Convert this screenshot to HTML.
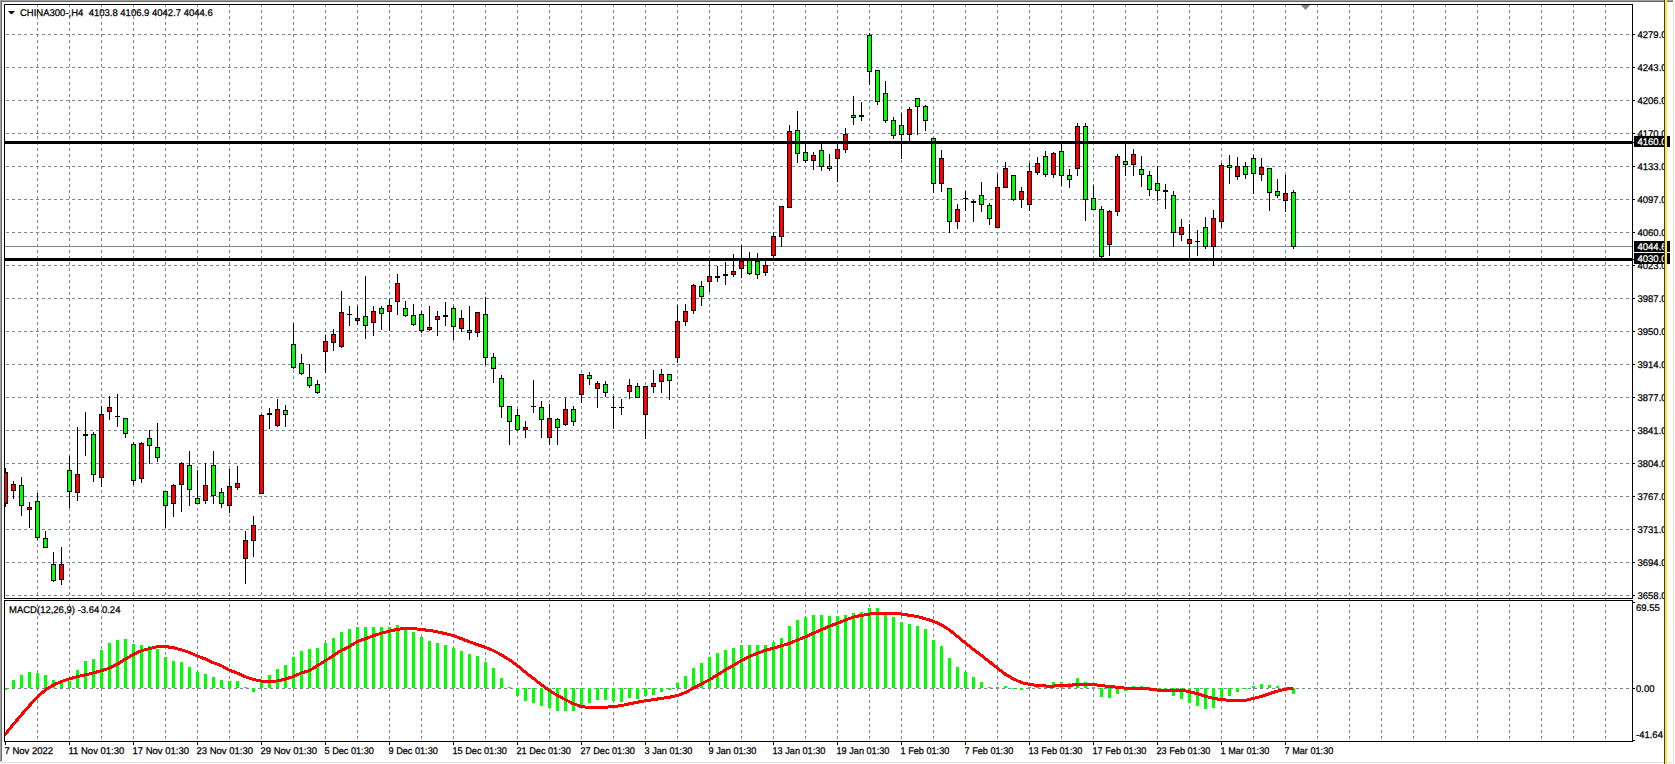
<!DOCTYPE html>
<html><head><meta charset="utf-8"><title>CHINA300 H4</title>
<style>html,body{margin:0;padding:0;background:#fff;overflow:hidden}svg{display:block}text{font-family:"Liberation Sans",sans-serif;stroke:#000;stroke-width:.25px}.w text{stroke:#fff}</style>
</head><body>
<svg width="1675" height="764" viewBox="0 0 1675 764"><rect x="0" y="0" width="1675" height="764" fill="#ffffff"/>
<rect x="0" y="0" width="1673" height="1" fill="#a0a0a0"/>
<rect x="0" y="0" width="1" height="762" fill="#a0a0a0"/>
<rect x="1" y="1" width="1672" height="1" fill="#696969"/>
<rect x="1" y="1" width="1" height="760" fill="#696969"/>
<rect x="1673" y="2" width="1" height="761" fill="#e3e3e3"/>
<rect x="1" y="762" width="1673" height="1" fill="#e3e3e3"/>
<path d="M5 34.5H1632M5 67.5H1632M5 100.5H1632M5 133.5H1632M5 166.5H1632M5 199.5H1632M5 232.5H1632M5 265.5H1632M5 298.5H1632M5 331.5H1632M5 364.5H1632M5 397.5H1632M5 430.5H1632M5 463.5H1632M5 496.5H1632M5 529.5H1632M5 562.5H1632M5 595.5H1632M5 688.5H1632" stroke="#778899" stroke-width="1" stroke-dasharray="3 3" stroke-dashoffset="-1" fill="none" shape-rendering="crispEdges"/>
<path d="M37.5 5V741M69.5 5V741M101.5 5V741M133.5 5V741M165.5 5V741M197.5 5V741M229.5 5V741M261.5 5V741M293.5 5V741M325.5 5V741M357.5 5V741M389.5 5V741M421.5 5V741M453.5 5V741M485.5 5V741M517.5 5V741M549.5 5V741M581.5 5V741M613.5 5V741M645.5 5V741M677.5 5V741M709.5 5V741M741.5 5V741M773.5 5V741M805.5 5V741M837.5 5V741M869.5 5V741M901.5 5V741M933.5 5V741M965.5 5V741M997.5 5V741M1029.5 5V741M1061.5 5V741M1093.5 5V741M1125.5 5V741M1157.5 5V741M1189.5 5V741M1221.5 5V741M1253.5 5V741M1285.5 5V741M1317.5 5V741M1349.5 5V741M1381.5 5V741M1413.5 5V741M1445.5 5V741M1477.5 5V741M1509.5 5V741M1541.5 5V741M1573.5 5V741M1605.5 5V741" stroke="#778899" stroke-width="1" stroke-dasharray="3 3" stroke-dashoffset="-5" fill="none" shape-rendering="crispEdges"/>
<rect x="5" y="246" width="1627" height="1" fill="#778899"/>
<clipPath id="cm"><rect x="5" y="5" width="1627" height="593"/></clipPath>
<g clip-path="url(#cm)" shape-rendering="crispEdges">
<rect x="5" y="468" width="1" height="39" fill="#000"/>
<rect x="3" y="472" width="5" height="32" fill="#000"/>
<rect x="4" y="473" width="3" height="30" fill="#ff0000"/>
<rect x="13" y="481" width="1" height="18" fill="#000"/>
<rect x="11" y="484" width="5" height="7" fill="#000"/>
<rect x="12" y="485" width="3" height="5" fill="#ff0000"/>
<rect x="21" y="477" width="1" height="39" fill="#000"/>
<rect x="19" y="485" width="5" height="21" fill="#000"/>
<rect x="20" y="486" width="3" height="19" fill="#00ff00"/>
<rect x="29" y="502" width="1" height="26" fill="#000"/>
<rect x="27" y="507" width="5" height="3" fill="#000"/>
<rect x="28" y="508" width="3" height="1" fill="#ff0000"/>
<rect x="37" y="493" width="1" height="47" fill="#000"/>
<rect x="35" y="501" width="5" height="37" fill="#000"/>
<rect x="36" y="502" width="3" height="35" fill="#00ff00"/>
<rect x="45" y="531" width="1" height="17" fill="#000"/>
<rect x="43" y="538" width="5" height="10" fill="#000"/>
<rect x="44" y="539" width="3" height="8" fill="#00ff00"/>
<rect x="53" y="552" width="1" height="30" fill="#000"/>
<rect x="51" y="564" width="5" height="17" fill="#000"/>
<rect x="52" y="565" width="3" height="15" fill="#00ff00"/>
<rect x="61" y="547" width="1" height="38" fill="#000"/>
<rect x="59" y="564" width="5" height="16" fill="#000"/>
<rect x="60" y="565" width="3" height="14" fill="#ff0000"/>
<rect x="69" y="456" width="1" height="52" fill="#000"/>
<rect x="67" y="470" width="5" height="22" fill="#000"/>
<rect x="68" y="471" width="3" height="20" fill="#00ff00"/>
<rect x="77" y="427" width="1" height="74" fill="#000"/>
<rect x="75" y="474" width="5" height="19" fill="#000"/>
<rect x="76" y="475" width="3" height="17" fill="#ff0000"/>
<rect x="85" y="412" width="1" height="44" fill="#000"/>
<rect x="83" y="434" width="5" height="2" fill="#000"/>
<rect x="93" y="432" width="1" height="50" fill="#000"/>
<rect x="91" y="434" width="5" height="41" fill="#000"/>
<rect x="92" y="435" width="3" height="39" fill="#00ff00"/>
<rect x="101" y="406" width="1" height="81" fill="#000"/>
<rect x="99" y="414" width="5" height="64" fill="#000"/>
<rect x="100" y="415" width="3" height="62" fill="#ff0000"/>
<rect x="109" y="396" width="1" height="24" fill="#000"/>
<rect x="107" y="407" width="5" height="5" fill="#000"/>
<rect x="108" y="408" width="3" height="3" fill="#ff0000"/>
<rect x="117" y="394" width="1" height="33" fill="#000"/>
<rect x="115" y="416" width="5" height="1" fill="#000"/>
<rect x="125" y="418" width="1" height="20" fill="#000"/>
<rect x="123" y="418" width="5" height="16" fill="#000"/>
<rect x="124" y="419" width="3" height="14" fill="#00ff00"/>
<rect x="133" y="442" width="1" height="43" fill="#000"/>
<rect x="131" y="444" width="5" height="37" fill="#000"/>
<rect x="132" y="445" width="3" height="35" fill="#00ff00"/>
<rect x="141" y="442" width="1" height="41" fill="#000"/>
<rect x="139" y="443" width="5" height="36" fill="#000"/>
<rect x="140" y="444" width="3" height="34" fill="#ff0000"/>
<rect x="149" y="430" width="1" height="34" fill="#000"/>
<rect x="147" y="438" width="5" height="8" fill="#000"/>
<rect x="148" y="439" width="3" height="6" fill="#00ff00"/>
<rect x="157" y="423" width="1" height="39" fill="#000"/>
<rect x="155" y="447" width="5" height="11" fill="#000"/>
<rect x="156" y="448" width="3" height="9" fill="#00ff00"/>
<rect x="165" y="491" width="1" height="37" fill="#000"/>
<rect x="163" y="491" width="5" height="15" fill="#000"/>
<rect x="164" y="492" width="3" height="13" fill="#00ff00"/>
<rect x="173" y="484" width="1" height="33" fill="#000"/>
<rect x="171" y="485" width="5" height="19" fill="#000"/>
<rect x="172" y="486" width="3" height="17" fill="#ff0000"/>
<rect x="181" y="462" width="1" height="50" fill="#000"/>
<rect x="179" y="463" width="5" height="22" fill="#000"/>
<rect x="180" y="464" width="3" height="20" fill="#ff0000"/>
<rect x="189" y="451" width="1" height="55" fill="#000"/>
<rect x="187" y="465" width="5" height="25" fill="#000"/>
<rect x="188" y="466" width="3" height="23" fill="#00ff00"/>
<rect x="197" y="470" width="1" height="34" fill="#000"/>
<rect x="195" y="498" width="5" height="6" fill="#000"/>
<rect x="196" y="499" width="3" height="4" fill="#00ff00"/>
<rect x="205" y="463" width="1" height="41" fill="#000"/>
<rect x="203" y="485" width="5" height="16" fill="#000"/>
<rect x="204" y="486" width="3" height="14" fill="#ff0000"/>
<rect x="213" y="451" width="1" height="53" fill="#000"/>
<rect x="211" y="465" width="5" height="31" fill="#000"/>
<rect x="212" y="466" width="3" height="29" fill="#00ff00"/>
<rect x="221" y="488" width="1" height="20" fill="#000"/>
<rect x="219" y="492" width="5" height="12" fill="#000"/>
<rect x="220" y="493" width="3" height="10" fill="#00ff00"/>
<rect x="229" y="469" width="1" height="44" fill="#000"/>
<rect x="227" y="486" width="5" height="20" fill="#000"/>
<rect x="228" y="487" width="3" height="18" fill="#ff0000"/>
<rect x="237" y="466" width="1" height="24" fill="#000"/>
<rect x="235" y="483" width="5" height="5" fill="#000"/>
<rect x="236" y="484" width="3" height="3" fill="#ff0000"/>
<rect x="245" y="531" width="1" height="53" fill="#000"/>
<rect x="243" y="540" width="5" height="19" fill="#000"/>
<rect x="244" y="541" width="3" height="17" fill="#ff0000"/>
<rect x="253" y="516" width="1" height="41" fill="#000"/>
<rect x="251" y="525" width="5" height="16" fill="#000"/>
<rect x="252" y="526" width="3" height="14" fill="#ff0000"/>
<rect x="261" y="414" width="1" height="80" fill="#000"/>
<rect x="259" y="415" width="5" height="79" fill="#000"/>
<rect x="260" y="416" width="3" height="77" fill="#ff0000"/>
<rect x="269" y="408" width="1" height="21" fill="#000"/>
<rect x="267" y="413" width="5" height="2" fill="#000"/>
<rect x="277" y="399" width="1" height="28" fill="#000"/>
<rect x="275" y="409" width="5" height="17" fill="#000"/>
<rect x="276" y="410" width="3" height="15" fill="#ff0000"/>
<rect x="285" y="405" width="1" height="22" fill="#000"/>
<rect x="283" y="410" width="5" height="5" fill="#000"/>
<rect x="284" y="411" width="3" height="3" fill="#00ff00"/>
<rect x="293" y="323" width="1" height="46" fill="#000"/>
<rect x="291" y="344" width="5" height="24" fill="#000"/>
<rect x="292" y="345" width="3" height="22" fill="#00ff00"/>
<rect x="301" y="354" width="1" height="21" fill="#000"/>
<rect x="299" y="363" width="5" height="11" fill="#000"/>
<rect x="300" y="364" width="3" height="9" fill="#00ff00"/>
<rect x="309" y="364" width="1" height="24" fill="#000"/>
<rect x="307" y="377" width="5" height="9" fill="#000"/>
<rect x="308" y="378" width="3" height="7" fill="#00ff00"/>
<rect x="317" y="380" width="1" height="14" fill="#000"/>
<rect x="315" y="384" width="5" height="9" fill="#000"/>
<rect x="316" y="385" width="3" height="7" fill="#00ff00"/>
<rect x="325" y="335" width="1" height="38" fill="#000"/>
<rect x="323" y="341" width="5" height="11" fill="#000"/>
<rect x="324" y="342" width="3" height="9" fill="#ff0000"/>
<rect x="333" y="329" width="1" height="22" fill="#000"/>
<rect x="331" y="334" width="5" height="9" fill="#000"/>
<rect x="332" y="335" width="3" height="7" fill="#ff0000"/>
<rect x="341" y="291" width="1" height="57" fill="#000"/>
<rect x="339" y="312" width="5" height="35" fill="#000"/>
<rect x="340" y="313" width="3" height="33" fill="#ff0000"/>
<rect x="349" y="306" width="1" height="20" fill="#000"/>
<rect x="347" y="314" width="5" height="1" fill="#000"/>
<rect x="357" y="306" width="1" height="19" fill="#000"/>
<rect x="355" y="318" width="5" height="3" fill="#000"/>
<rect x="356" y="319" width="3" height="1" fill="#ff0000"/>
<rect x="365" y="276" width="1" height="63" fill="#000"/>
<rect x="363" y="316" width="5" height="10" fill="#000"/>
<rect x="364" y="317" width="3" height="8" fill="#00ff00"/>
<rect x="373" y="306" width="1" height="30" fill="#000"/>
<rect x="371" y="311" width="5" height="12" fill="#000"/>
<rect x="372" y="312" width="3" height="10" fill="#ff0000"/>
<rect x="381" y="306" width="1" height="24" fill="#000"/>
<rect x="379" y="308" width="5" height="6" fill="#000"/>
<rect x="380" y="309" width="3" height="4" fill="#00ff00"/>
<rect x="389" y="299" width="1" height="32" fill="#000"/>
<rect x="387" y="305" width="5" height="7" fill="#000"/>
<rect x="388" y="306" width="3" height="5" fill="#ff0000"/>
<rect x="397" y="274" width="1" height="41" fill="#000"/>
<rect x="395" y="283" width="5" height="19" fill="#000"/>
<rect x="396" y="284" width="3" height="17" fill="#ff0000"/>
<rect x="405" y="301" width="1" height="16" fill="#000"/>
<rect x="403" y="308" width="5" height="8" fill="#000"/>
<rect x="404" y="309" width="3" height="6" fill="#00ff00"/>
<rect x="413" y="304" width="1" height="22" fill="#000"/>
<rect x="411" y="315" width="5" height="10" fill="#000"/>
<rect x="412" y="316" width="3" height="8" fill="#00ff00"/>
<rect x="421" y="311" width="1" height="22" fill="#000"/>
<rect x="419" y="314" width="5" height="17" fill="#000"/>
<rect x="420" y="315" width="3" height="15" fill="#00ff00"/>
<rect x="429" y="306" width="1" height="25" fill="#000"/>
<rect x="427" y="327" width="5" height="3" fill="#000"/>
<rect x="428" y="328" width="3" height="1" fill="#ff0000"/>
<rect x="437" y="311" width="1" height="25" fill="#000"/>
<rect x="435" y="316" width="5" height="4" fill="#000"/>
<rect x="436" y="317" width="3" height="2" fill="#ff0000"/>
<rect x="445" y="302" width="1" height="24" fill="#000"/>
<rect x="443" y="315" width="5" height="2" fill="#000"/>
<rect x="453" y="306" width="1" height="34" fill="#000"/>
<rect x="451" y="308" width="5" height="19" fill="#000"/>
<rect x="452" y="309" width="3" height="17" fill="#00ff00"/>
<rect x="461" y="310" width="1" height="22" fill="#000"/>
<rect x="459" y="318" width="5" height="11" fill="#000"/>
<rect x="460" y="319" width="3" height="9" fill="#ff0000"/>
<rect x="469" y="306" width="1" height="34" fill="#000"/>
<rect x="467" y="330" width="5" height="3" fill="#000"/>
<rect x="468" y="331" width="3" height="1" fill="#00ff00"/>
<rect x="477" y="312" width="1" height="25" fill="#000"/>
<rect x="475" y="312" width="5" height="21" fill="#000"/>
<rect x="476" y="313" width="3" height="19" fill="#ff0000"/>
<rect x="485" y="297" width="1" height="68" fill="#000"/>
<rect x="483" y="314" width="5" height="44" fill="#000"/>
<rect x="484" y="315" width="3" height="42" fill="#00ff00"/>
<rect x="493" y="353" width="1" height="30" fill="#000"/>
<rect x="491" y="357" width="5" height="12" fill="#000"/>
<rect x="492" y="358" width="3" height="10" fill="#00ff00"/>
<rect x="501" y="375" width="1" height="43" fill="#000"/>
<rect x="499" y="378" width="5" height="29" fill="#000"/>
<rect x="500" y="379" width="3" height="27" fill="#00ff00"/>
<rect x="509" y="406" width="1" height="39" fill="#000"/>
<rect x="507" y="406" width="5" height="16" fill="#000"/>
<rect x="508" y="407" width="3" height="14" fill="#00ff00"/>
<rect x="517" y="409" width="1" height="22" fill="#000"/>
<rect x="515" y="415" width="5" height="15" fill="#000"/>
<rect x="516" y="416" width="3" height="13" fill="#00ff00"/>
<rect x="525" y="421" width="1" height="17" fill="#000"/>
<rect x="523" y="427" width="5" height="3" fill="#000"/>
<rect x="524" y="428" width="3" height="1" fill="#ff0000"/>
<rect x="533" y="380" width="1" height="33" fill="#000"/>
<rect x="531" y="406" width="5" height="1" fill="#000"/>
<rect x="541" y="401" width="1" height="37" fill="#000"/>
<rect x="539" y="407" width="5" height="13" fill="#000"/>
<rect x="540" y="408" width="3" height="11" fill="#00ff00"/>
<rect x="549" y="404" width="1" height="41" fill="#000"/>
<rect x="547" y="418" width="5" height="20" fill="#000"/>
<rect x="548" y="419" width="3" height="18" fill="#ff0000"/>
<rect x="557" y="418" width="1" height="27" fill="#000"/>
<rect x="555" y="419" width="5" height="9" fill="#000"/>
<rect x="556" y="420" width="3" height="7" fill="#00ff00"/>
<rect x="565" y="398" width="1" height="28" fill="#000"/>
<rect x="563" y="409" width="5" height="16" fill="#000"/>
<rect x="564" y="410" width="3" height="14" fill="#ff0000"/>
<rect x="573" y="406" width="1" height="20" fill="#000"/>
<rect x="571" y="409" width="5" height="13" fill="#000"/>
<rect x="572" y="410" width="3" height="11" fill="#00ff00"/>
<rect x="581" y="374" width="1" height="29" fill="#000"/>
<rect x="579" y="374" width="5" height="21" fill="#000"/>
<rect x="580" y="375" width="3" height="19" fill="#ff0000"/>
<rect x="589" y="372" width="1" height="13" fill="#000"/>
<rect x="587" y="375" width="5" height="4" fill="#000"/>
<rect x="588" y="376" width="3" height="2" fill="#00ff00"/>
<rect x="597" y="381" width="1" height="27" fill="#000"/>
<rect x="595" y="383" width="5" height="6" fill="#000"/>
<rect x="596" y="384" width="3" height="4" fill="#ff0000"/>
<rect x="605" y="381" width="1" height="16" fill="#000"/>
<rect x="603" y="384" width="5" height="9" fill="#000"/>
<rect x="604" y="385" width="3" height="7" fill="#00ff00"/>
<rect x="613" y="396" width="1" height="33" fill="#000"/>
<rect x="611" y="407" width="5" height="1" fill="#000"/>
<rect x="621" y="399" width="1" height="16" fill="#000"/>
<rect x="619" y="407" width="5" height="1" fill="#000"/>
<rect x="629" y="379" width="1" height="20" fill="#000"/>
<rect x="627" y="385" width="5" height="7" fill="#000"/>
<rect x="628" y="386" width="3" height="5" fill="#ff0000"/>
<rect x="637" y="383" width="1" height="15" fill="#000"/>
<rect x="635" y="386" width="5" height="12" fill="#000"/>
<rect x="636" y="387" width="3" height="10" fill="#00ff00"/>
<rect x="645" y="386" width="1" height="53" fill="#000"/>
<rect x="643" y="386" width="5" height="29" fill="#000"/>
<rect x="644" y="387" width="3" height="27" fill="#ff0000"/>
<rect x="653" y="370" width="1" height="23" fill="#000"/>
<rect x="651" y="383" width="5" height="4" fill="#000"/>
<rect x="652" y="384" width="3" height="2" fill="#ff0000"/>
<rect x="661" y="369" width="1" height="24" fill="#000"/>
<rect x="659" y="374" width="5" height="8" fill="#000"/>
<rect x="660" y="375" width="3" height="6" fill="#ff0000"/>
<rect x="669" y="374" width="1" height="26" fill="#000"/>
<rect x="667" y="374" width="5" height="7" fill="#000"/>
<rect x="668" y="375" width="3" height="5" fill="#00ff00"/>
<rect x="677" y="305" width="1" height="58" fill="#000"/>
<rect x="675" y="321" width="5" height="37" fill="#000"/>
<rect x="676" y="322" width="3" height="35" fill="#ff0000"/>
<rect x="685" y="304" width="1" height="22" fill="#000"/>
<rect x="683" y="311" width="5" height="11" fill="#000"/>
<rect x="684" y="312" width="3" height="9" fill="#ff0000"/>
<rect x="693" y="284" width="1" height="30" fill="#000"/>
<rect x="691" y="285" width="5" height="26" fill="#000"/>
<rect x="692" y="286" width="3" height="24" fill="#ff0000"/>
<rect x="701" y="281" width="1" height="25" fill="#000"/>
<rect x="699" y="286" width="5" height="11" fill="#000"/>
<rect x="700" y="287" width="3" height="9" fill="#00ff00"/>
<rect x="709" y="260" width="1" height="32" fill="#000"/>
<rect x="707" y="276" width="5" height="6" fill="#000"/>
<rect x="708" y="277" width="3" height="4" fill="#ff0000"/>
<rect x="717" y="266" width="1" height="16" fill="#000"/>
<rect x="715" y="276" width="5" height="2" fill="#000"/>
<rect x="725" y="262" width="1" height="23" fill="#000"/>
<rect x="723" y="274" width="5" height="2" fill="#000"/>
<rect x="733" y="254" width="1" height="23" fill="#000"/>
<rect x="731" y="271" width="5" height="4" fill="#000"/>
<rect x="732" y="272" width="3" height="2" fill="#ff0000"/>
<rect x="741" y="245" width="1" height="33" fill="#000"/>
<rect x="739" y="261" width="5" height="8" fill="#000"/>
<rect x="740" y="262" width="3" height="6" fill="#ff0000"/>
<rect x="749" y="252" width="1" height="23" fill="#000"/>
<rect x="747" y="260" width="5" height="14" fill="#000"/>
<rect x="748" y="261" width="3" height="12" fill="#00ff00"/>
<rect x="757" y="253" width="1" height="26" fill="#000"/>
<rect x="755" y="261" width="5" height="14" fill="#000"/>
<rect x="756" y="262" width="3" height="12" fill="#00ff00"/>
<rect x="765" y="261" width="1" height="15" fill="#000"/>
<rect x="763" y="265" width="5" height="8" fill="#000"/>
<rect x="764" y="266" width="3" height="6" fill="#ff0000"/>
<rect x="773" y="232" width="1" height="27" fill="#000"/>
<rect x="771" y="236" width="5" height="20" fill="#000"/>
<rect x="772" y="237" width="3" height="18" fill="#ff0000"/>
<rect x="781" y="206" width="1" height="41" fill="#000"/>
<rect x="779" y="206" width="5" height="31" fill="#000"/>
<rect x="780" y="207" width="3" height="29" fill="#ff0000"/>
<rect x="789" y="125" width="1" height="83" fill="#000"/>
<rect x="787" y="131" width="5" height="77" fill="#000"/>
<rect x="788" y="132" width="3" height="75" fill="#ff0000"/>
<rect x="797" y="111" width="1" height="52" fill="#000"/>
<rect x="795" y="130" width="5" height="24" fill="#000"/>
<rect x="796" y="131" width="3" height="22" fill="#00ff00"/>
<rect x="805" y="143" width="1" height="20" fill="#000"/>
<rect x="803" y="152" width="5" height="9" fill="#000"/>
<rect x="804" y="153" width="3" height="7" fill="#00ff00"/>
<rect x="813" y="152" width="1" height="18" fill="#000"/>
<rect x="811" y="155" width="5" height="6" fill="#000"/>
<rect x="812" y="156" width="3" height="4" fill="#ff0000"/>
<rect x="821" y="143" width="1" height="28" fill="#000"/>
<rect x="819" y="150" width="5" height="17" fill="#000"/>
<rect x="820" y="151" width="3" height="15" fill="#00ff00"/>
<rect x="829" y="154" width="1" height="17" fill="#000"/>
<rect x="827" y="166" width="5" height="3" fill="#000"/>
<rect x="828" y="167" width="3" height="1" fill="#00ff00"/>
<rect x="837" y="143" width="1" height="39" fill="#000"/>
<rect x="835" y="149" width="5" height="10" fill="#000"/>
<rect x="836" y="150" width="3" height="8" fill="#ff0000"/>
<rect x="845" y="128" width="1" height="25" fill="#000"/>
<rect x="843" y="134" width="5" height="16" fill="#000"/>
<rect x="844" y="135" width="3" height="14" fill="#ff0000"/>
<rect x="853" y="96" width="1" height="29" fill="#000"/>
<rect x="851" y="115" width="5" height="3" fill="#000"/>
<rect x="852" y="116" width="3" height="1" fill="#00ff00"/>
<rect x="861" y="102" width="1" height="19" fill="#000"/>
<rect x="859" y="115" width="5" height="2" fill="#000"/>
<rect x="869" y="33" width="1" height="52" fill="#000"/>
<rect x="867" y="35" width="5" height="37" fill="#000"/>
<rect x="868" y="36" width="3" height="35" fill="#00ff00"/>
<rect x="877" y="70" width="1" height="35" fill="#000"/>
<rect x="875" y="70" width="5" height="32" fill="#000"/>
<rect x="876" y="71" width="3" height="30" fill="#00ff00"/>
<rect x="885" y="81" width="1" height="42" fill="#000"/>
<rect x="883" y="93" width="5" height="28" fill="#000"/>
<rect x="884" y="94" width="3" height="26" fill="#00ff00"/>
<rect x="893" y="117" width="1" height="22" fill="#000"/>
<rect x="891" y="120" width="5" height="16" fill="#000"/>
<rect x="892" y="121" width="3" height="14" fill="#00ff00"/>
<rect x="901" y="113" width="1" height="46" fill="#000"/>
<rect x="899" y="125" width="5" height="10" fill="#000"/>
<rect x="900" y="126" width="3" height="8" fill="#00ff00"/>
<rect x="909" y="107" width="1" height="35" fill="#000"/>
<rect x="907" y="109" width="5" height="26" fill="#000"/>
<rect x="908" y="110" width="3" height="24" fill="#ff0000"/>
<rect x="917" y="98" width="1" height="37" fill="#000"/>
<rect x="915" y="98" width="5" height="9" fill="#000"/>
<rect x="916" y="99" width="3" height="7" fill="#00ff00"/>
<rect x="925" y="105" width="1" height="26" fill="#000"/>
<rect x="923" y="106" width="5" height="15" fill="#000"/>
<rect x="924" y="107" width="3" height="13" fill="#00ff00"/>
<rect x="933" y="138" width="1" height="55" fill="#000"/>
<rect x="931" y="138" width="5" height="46" fill="#000"/>
<rect x="932" y="139" width="3" height="44" fill="#00ff00"/>
<rect x="941" y="150" width="1" height="42" fill="#000"/>
<rect x="939" y="158" width="5" height="26" fill="#000"/>
<rect x="940" y="159" width="3" height="24" fill="#ff0000"/>
<rect x="949" y="188" width="1" height="45" fill="#000"/>
<rect x="947" y="188" width="5" height="34" fill="#000"/>
<rect x="948" y="189" width="3" height="32" fill="#00ff00"/>
<rect x="957" y="204" width="1" height="25" fill="#000"/>
<rect x="955" y="209" width="5" height="13" fill="#000"/>
<rect x="956" y="210" width="3" height="11" fill="#ff0000"/>
<rect x="965" y="191" width="1" height="20" fill="#000"/>
<rect x="963" y="198" width="5" height="1" fill="#000"/>
<rect x="973" y="200" width="1" height="22" fill="#000"/>
<rect x="971" y="201" width="5" height="2" fill="#000"/>
<rect x="981" y="182" width="1" height="30" fill="#000"/>
<rect x="979" y="195" width="5" height="10" fill="#000"/>
<rect x="980" y="196" width="3" height="8" fill="#00ff00"/>
<rect x="989" y="203" width="1" height="22" fill="#000"/>
<rect x="987" y="205" width="5" height="14" fill="#000"/>
<rect x="988" y="206" width="3" height="12" fill="#00ff00"/>
<rect x="997" y="174" width="1" height="54" fill="#000"/>
<rect x="995" y="187" width="5" height="41" fill="#000"/>
<rect x="996" y="188" width="3" height="39" fill="#ff0000"/>
<rect x="1005" y="162" width="1" height="26" fill="#000"/>
<rect x="1003" y="168" width="5" height="20" fill="#000"/>
<rect x="1004" y="169" width="3" height="18" fill="#ff0000"/>
<rect x="1013" y="175" width="1" height="26" fill="#000"/>
<rect x="1011" y="175" width="5" height="25" fill="#000"/>
<rect x="1012" y="176" width="3" height="23" fill="#00ff00"/>
<rect x="1021" y="187" width="1" height="21" fill="#000"/>
<rect x="1019" y="191" width="5" height="9" fill="#000"/>
<rect x="1020" y="192" width="3" height="7" fill="#ff0000"/>
<rect x="1029" y="163" width="1" height="48" fill="#000"/>
<rect x="1027" y="171" width="5" height="34" fill="#000"/>
<rect x="1028" y="172" width="3" height="32" fill="#ff0000"/>
<rect x="1037" y="157" width="1" height="18" fill="#000"/>
<rect x="1035" y="163" width="5" height="10" fill="#000"/>
<rect x="1036" y="164" width="3" height="8" fill="#ff0000"/>
<rect x="1045" y="151" width="1" height="26" fill="#000"/>
<rect x="1043" y="156" width="5" height="19" fill="#000"/>
<rect x="1044" y="157" width="3" height="17" fill="#00ff00"/>
<rect x="1053" y="152" width="1" height="26" fill="#000"/>
<rect x="1051" y="153" width="5" height="22" fill="#000"/>
<rect x="1052" y="154" width="3" height="20" fill="#ff0000"/>
<rect x="1061" y="144" width="1" height="42" fill="#000"/>
<rect x="1059" y="151" width="5" height="25" fill="#000"/>
<rect x="1060" y="152" width="3" height="23" fill="#00ff00"/>
<rect x="1069" y="169" width="1" height="19" fill="#000"/>
<rect x="1067" y="175" width="5" height="5" fill="#000"/>
<rect x="1068" y="176" width="3" height="3" fill="#00ff00"/>
<rect x="1077" y="123" width="1" height="53" fill="#000"/>
<rect x="1075" y="126" width="5" height="43" fill="#000"/>
<rect x="1076" y="127" width="3" height="41" fill="#ff0000"/>
<rect x="1085" y="123" width="1" height="98" fill="#000"/>
<rect x="1083" y="126" width="5" height="74" fill="#000"/>
<rect x="1084" y="127" width="3" height="72" fill="#00ff00"/>
<rect x="1093" y="185" width="1" height="25" fill="#000"/>
<rect x="1091" y="198" width="5" height="12" fill="#000"/>
<rect x="1092" y="199" width="3" height="10" fill="#00ff00"/>
<rect x="1101" y="206" width="1" height="53" fill="#000"/>
<rect x="1099" y="209" width="5" height="48" fill="#000"/>
<rect x="1100" y="210" width="3" height="46" fill="#00ff00"/>
<rect x="1109" y="210" width="1" height="46" fill="#000"/>
<rect x="1107" y="211" width="5" height="34" fill="#000"/>
<rect x="1108" y="212" width="3" height="32" fill="#ff0000"/>
<rect x="1117" y="154" width="1" height="62" fill="#000"/>
<rect x="1115" y="156" width="5" height="56" fill="#000"/>
<rect x="1116" y="157" width="3" height="54" fill="#ff0000"/>
<rect x="1125" y="143" width="1" height="33" fill="#000"/>
<rect x="1123" y="161" width="5" height="4" fill="#000"/>
<rect x="1124" y="162" width="3" height="2" fill="#00ff00"/>
<rect x="1133" y="149" width="1" height="27" fill="#000"/>
<rect x="1131" y="154" width="5" height="11" fill="#000"/>
<rect x="1132" y="155" width="3" height="9" fill="#ff0000"/>
<rect x="1141" y="156" width="1" height="31" fill="#000"/>
<rect x="1139" y="169" width="5" height="6" fill="#000"/>
<rect x="1140" y="170" width="3" height="4" fill="#00ff00"/>
<rect x="1149" y="171" width="1" height="25" fill="#000"/>
<rect x="1147" y="175" width="5" height="15" fill="#000"/>
<rect x="1148" y="176" width="3" height="13" fill="#00ff00"/>
<rect x="1157" y="166" width="1" height="35" fill="#000"/>
<rect x="1155" y="183" width="5" height="8" fill="#000"/>
<rect x="1156" y="184" width="3" height="6" fill="#00ff00"/>
<rect x="1165" y="184" width="1" height="25" fill="#000"/>
<rect x="1163" y="190" width="5" height="2" fill="#000"/>
<rect x="1173" y="191" width="1" height="56" fill="#000"/>
<rect x="1171" y="195" width="5" height="38" fill="#000"/>
<rect x="1172" y="196" width="3" height="36" fill="#00ff00"/>
<rect x="1181" y="219" width="1" height="22" fill="#000"/>
<rect x="1179" y="227" width="5" height="8" fill="#000"/>
<rect x="1180" y="228" width="3" height="6" fill="#ff0000"/>
<rect x="1189" y="224" width="1" height="34" fill="#000"/>
<rect x="1187" y="239" width="5" height="5" fill="#000"/>
<rect x="1188" y="240" width="3" height="3" fill="#ff0000"/>
<rect x="1197" y="230" width="1" height="26" fill="#000"/>
<rect x="1195" y="241" width="5" height="1" fill="#000"/>
<rect x="1205" y="217" width="1" height="32" fill="#000"/>
<rect x="1203" y="227" width="5" height="20" fill="#000"/>
<rect x="1204" y="228" width="3" height="18" fill="#00ff00"/>
<rect x="1213" y="210" width="1" height="56" fill="#000"/>
<rect x="1211" y="218" width="5" height="29" fill="#000"/>
<rect x="1212" y="219" width="3" height="27" fill="#ff0000"/>
<rect x="1221" y="163" width="1" height="65" fill="#000"/>
<rect x="1219" y="165" width="5" height="57" fill="#000"/>
<rect x="1220" y="166" width="3" height="55" fill="#ff0000"/>
<rect x="1229" y="155" width="1" height="29" fill="#000"/>
<rect x="1227" y="165" width="5" height="3" fill="#000"/>
<rect x="1228" y="166" width="3" height="1" fill="#00ff00"/>
<rect x="1237" y="157" width="1" height="23" fill="#000"/>
<rect x="1235" y="166" width="5" height="11" fill="#000"/>
<rect x="1236" y="167" width="3" height="9" fill="#ff0000"/>
<rect x="1245" y="162" width="1" height="17" fill="#000"/>
<rect x="1243" y="166" width="5" height="9" fill="#000"/>
<rect x="1244" y="167" width="3" height="7" fill="#00ff00"/>
<rect x="1253" y="155" width="1" height="39" fill="#000"/>
<rect x="1251" y="158" width="5" height="16" fill="#000"/>
<rect x="1252" y="159" width="3" height="14" fill="#00ff00"/>
<rect x="1261" y="158" width="1" height="23" fill="#000"/>
<rect x="1259" y="167" width="5" height="8" fill="#000"/>
<rect x="1260" y="168" width="3" height="6" fill="#ff0000"/>
<rect x="1269" y="168" width="1" height="43" fill="#000"/>
<rect x="1267" y="168" width="5" height="25" fill="#000"/>
<rect x="1268" y="169" width="3" height="23" fill="#00ff00"/>
<rect x="1277" y="179" width="1" height="19" fill="#000"/>
<rect x="1275" y="191" width="5" height="5" fill="#000"/>
<rect x="1276" y="192" width="3" height="3" fill="#00ff00"/>
<rect x="1285" y="175" width="1" height="37" fill="#000"/>
<rect x="1283" y="193" width="5" height="8" fill="#000"/>
<rect x="1284" y="194" width="3" height="6" fill="#ff0000"/>
<rect x="1293" y="190" width="1" height="59" fill="#000"/>
<rect x="1291" y="192" width="5" height="55" fill="#000"/>
<rect x="1292" y="193" width="3" height="53" fill="#00ff00"/>
</g>
<rect x="5" y="141" width="1627" height="3" fill="#000"/>
<rect x="5" y="258" width="1627" height="3" fill="#000"/>
<clipPath id="ci"><rect x="5" y="601" width="1627" height="140"/></clipPath>
<g clip-path="url(#ci)" shape-rendering="crispEdges">
<rect x="4" y="688" width="3" height="2" fill="#00ff00"/>
<rect x="12" y="680" width="3" height="8" fill="#00ff00"/>
<rect x="20" y="675" width="3" height="13" fill="#00ff00"/>
<rect x="28" y="672" width="3" height="16" fill="#00ff00"/>
<rect x="36" y="673" width="3" height="15" fill="#00ff00"/>
<rect x="44" y="675" width="3" height="13" fill="#00ff00"/>
<rect x="52" y="680" width="3" height="8" fill="#00ff00"/>
<rect x="60" y="682" width="3" height="6" fill="#00ff00"/>
<rect x="68" y="681" width="3" height="7" fill="#00ff00"/>
<rect x="76" y="670" width="3" height="18" fill="#00ff00"/>
<rect x="84" y="661" width="3" height="27" fill="#00ff00"/>
<rect x="92" y="659" width="3" height="29" fill="#00ff00"/>
<rect x="100" y="650" width="3" height="38" fill="#00ff00"/>
<rect x="108" y="643" width="3" height="45" fill="#00ff00"/>
<rect x="116" y="640" width="3" height="48" fill="#00ff00"/>
<rect x="124" y="639" width="3" height="49" fill="#00ff00"/>
<rect x="132" y="644" width="3" height="44" fill="#00ff00"/>
<rect x="140" y="645" width="3" height="43" fill="#00ff00"/>
<rect x="148" y="646" width="3" height="42" fill="#00ff00"/>
<rect x="156" y="649" width="3" height="39" fill="#00ff00"/>
<rect x="164" y="657" width="3" height="31" fill="#00ff00"/>
<rect x="172" y="661" width="3" height="27" fill="#00ff00"/>
<rect x="180" y="662" width="3" height="26" fill="#00ff00"/>
<rect x="188" y="667" width="3" height="21" fill="#00ff00"/>
<rect x="196" y="672" width="3" height="16" fill="#00ff00"/>
<rect x="204" y="674" width="3" height="14" fill="#00ff00"/>
<rect x="212" y="677" width="3" height="11" fill="#00ff00"/>
<rect x="220" y="680" width="3" height="8" fill="#00ff00"/>
<rect x="228" y="681" width="3" height="7" fill="#00ff00"/>
<rect x="236" y="681" width="3" height="7" fill="#00ff00"/>
<rect x="244" y="687" width="3" height="1" fill="#00ff00"/>
<rect x="252" y="688" width="3" height="4" fill="#00ff00"/>
<rect x="260" y="682" width="3" height="6" fill="#00ff00"/>
<rect x="268" y="675" width="3" height="13" fill="#00ff00"/>
<rect x="276" y="669" width="3" height="19" fill="#00ff00"/>
<rect x="284" y="665" width="3" height="23" fill="#00ff00"/>
<rect x="292" y="657" width="3" height="31" fill="#00ff00"/>
<rect x="300" y="651" width="3" height="37" fill="#00ff00"/>
<rect x="308" y="649" width="3" height="39" fill="#00ff00"/>
<rect x="316" y="648" width="3" height="40" fill="#00ff00"/>
<rect x="324" y="643" width="3" height="45" fill="#00ff00"/>
<rect x="332" y="638" width="3" height="50" fill="#00ff00"/>
<rect x="340" y="632" width="3" height="56" fill="#00ff00"/>
<rect x="348" y="629" width="3" height="59" fill="#00ff00"/>
<rect x="356" y="627" width="3" height="61" fill="#00ff00"/>
<rect x="364" y="627" width="3" height="61" fill="#00ff00"/>
<rect x="372" y="627" width="3" height="61" fill="#00ff00"/>
<rect x="380" y="627" width="3" height="61" fill="#00ff00"/>
<rect x="388" y="627" width="3" height="61" fill="#00ff00"/>
<rect x="396" y="625" width="3" height="63" fill="#00ff00"/>
<rect x="404" y="628" width="3" height="60" fill="#00ff00"/>
<rect x="412" y="632" width="3" height="56" fill="#00ff00"/>
<rect x="420" y="637" width="3" height="51" fill="#00ff00"/>
<rect x="428" y="641" width="3" height="47" fill="#00ff00"/>
<rect x="436" y="643" width="3" height="45" fill="#00ff00"/>
<rect x="444" y="645" width="3" height="43" fill="#00ff00"/>
<rect x="452" y="648" width="3" height="40" fill="#00ff00"/>
<rect x="460" y="651" width="3" height="37" fill="#00ff00"/>
<rect x="468" y="654" width="3" height="34" fill="#00ff00"/>
<rect x="476" y="656" width="3" height="32" fill="#00ff00"/>
<rect x="484" y="662" width="3" height="26" fill="#00ff00"/>
<rect x="492" y="668" width="3" height="20" fill="#00ff00"/>
<rect x="500" y="678" width="3" height="10" fill="#00ff00"/>
<rect x="508" y="687" width="3" height="1" fill="#00ff00"/>
<rect x="516" y="688" width="3" height="8" fill="#00ff00"/>
<rect x="524" y="688" width="3" height="13" fill="#00ff00"/>
<rect x="532" y="688" width="3" height="15" fill="#00ff00"/>
<rect x="540" y="688" width="3" height="18" fill="#00ff00"/>
<rect x="548" y="688" width="3" height="20" fill="#00ff00"/>
<rect x="556" y="688" width="3" height="23" fill="#00ff00"/>
<rect x="564" y="688" width="3" height="23" fill="#00ff00"/>
<rect x="572" y="688" width="3" height="23" fill="#00ff00"/>
<rect x="580" y="688" width="3" height="19" fill="#00ff00"/>
<rect x="588" y="688" width="3" height="15" fill="#00ff00"/>
<rect x="596" y="688" width="3" height="12" fill="#00ff00"/>
<rect x="604" y="688" width="3" height="12" fill="#00ff00"/>
<rect x="612" y="688" width="3" height="13" fill="#00ff00"/>
<rect x="620" y="688" width="3" height="14" fill="#00ff00"/>
<rect x="628" y="688" width="3" height="10" fill="#00ff00"/>
<rect x="636" y="688" width="3" height="11" fill="#00ff00"/>
<rect x="644" y="688" width="3" height="8" fill="#00ff00"/>
<rect x="652" y="688" width="3" height="7" fill="#00ff00"/>
<rect x="660" y="688" width="3" height="4" fill="#00ff00"/>
<rect x="668" y="688" width="3" height="2" fill="#00ff00"/>
<rect x="676" y="683" width="3" height="5" fill="#00ff00"/>
<rect x="684" y="676" width="3" height="12" fill="#00ff00"/>
<rect x="692" y="668" width="3" height="20" fill="#00ff00"/>
<rect x="700" y="663" width="3" height="25" fill="#00ff00"/>
<rect x="708" y="657" width="3" height="31" fill="#00ff00"/>
<rect x="716" y="653" width="3" height="35" fill="#00ff00"/>
<rect x="724" y="650" width="3" height="38" fill="#00ff00"/>
<rect x="732" y="648" width="3" height="40" fill="#00ff00"/>
<rect x="740" y="645" width="3" height="43" fill="#00ff00"/>
<rect x="748" y="645" width="3" height="43" fill="#00ff00"/>
<rect x="756" y="645" width="3" height="43" fill="#00ff00"/>
<rect x="764" y="645" width="3" height="43" fill="#00ff00"/>
<rect x="772" y="642" width="3" height="46" fill="#00ff00"/>
<rect x="780" y="638" width="3" height="50" fill="#00ff00"/>
<rect x="788" y="626" width="3" height="62" fill="#00ff00"/>
<rect x="796" y="620" width="3" height="68" fill="#00ff00"/>
<rect x="804" y="617" width="3" height="71" fill="#00ff00"/>
<rect x="812" y="615" width="3" height="73" fill="#00ff00"/>
<rect x="820" y="615" width="3" height="73" fill="#00ff00"/>
<rect x="828" y="616" width="3" height="72" fill="#00ff00"/>
<rect x="836" y="616" width="3" height="72" fill="#00ff00"/>
<rect x="844" y="615" width="3" height="73" fill="#00ff00"/>
<rect x="852" y="613" width="3" height="75" fill="#00ff00"/>
<rect x="860" y="612" width="3" height="76" fill="#00ff00"/>
<rect x="868" y="608" width="3" height="80" fill="#00ff00"/>
<rect x="876" y="608" width="3" height="80" fill="#00ff00"/>
<rect x="884" y="612" width="3" height="76" fill="#00ff00"/>
<rect x="892" y="617" width="3" height="71" fill="#00ff00"/>
<rect x="900" y="622" width="3" height="66" fill="#00ff00"/>
<rect x="908" y="624" width="3" height="64" fill="#00ff00"/>
<rect x="916" y="626" width="3" height="62" fill="#00ff00"/>
<rect x="924" y="629" width="3" height="59" fill="#00ff00"/>
<rect x="932" y="640" width="3" height="48" fill="#00ff00"/>
<rect x="940" y="646" width="3" height="42" fill="#00ff00"/>
<rect x="948" y="658" width="3" height="30" fill="#00ff00"/>
<rect x="956" y="667" width="3" height="21" fill="#00ff00"/>
<rect x="964" y="672" width="3" height="16" fill="#00ff00"/>
<rect x="972" y="677" width="3" height="11" fill="#00ff00"/>
<rect x="980" y="682" width="3" height="6" fill="#00ff00"/>
<rect x="988" y="687" width="3" height="1" fill="#00ff00"/>
<rect x="996" y="687" width="3" height="1" fill="#00ff00"/>
<rect x="1004" y="686" width="3" height="2" fill="#00ff00"/>
<rect x="1012" y="688" width="3" height="1" fill="#00ff00"/>
<rect x="1020" y="688" width="3" height="2" fill="#00ff00"/>
<rect x="1028" y="687" width="3" height="1" fill="#00ff00"/>
<rect x="1036" y="686" width="3" height="2" fill="#00ff00"/>
<rect x="1044" y="685" width="3" height="3" fill="#00ff00"/>
<rect x="1052" y="682" width="3" height="6" fill="#00ff00"/>
<rect x="1060" y="682" width="3" height="6" fill="#00ff00"/>
<rect x="1068" y="683" width="3" height="5" fill="#00ff00"/>
<rect x="1076" y="678" width="3" height="10" fill="#00ff00"/>
<rect x="1084" y="682" width="3" height="6" fill="#00ff00"/>
<rect x="1092" y="687" width="3" height="1" fill="#00ff00"/>
<rect x="1100" y="688" width="3" height="9" fill="#00ff00"/>
<rect x="1108" y="688" width="3" height="10" fill="#00ff00"/>
<rect x="1116" y="688" width="3" height="6" fill="#00ff00"/>
<rect x="1124" y="688" width="3" height="3" fill="#00ff00"/>
<rect x="1132" y="686" width="3" height="2" fill="#00ff00"/>
<rect x="1140" y="686" width="3" height="2" fill="#00ff00"/>
<rect x="1148" y="687" width="3" height="1" fill="#00ff00"/>
<rect x="1156" y="688" width="3" height="1" fill="#00ff00"/>
<rect x="1164" y="688" width="3" height="1" fill="#00ff00"/>
<rect x="1172" y="688" width="3" height="8" fill="#00ff00"/>
<rect x="1180" y="688" width="3" height="11" fill="#00ff00"/>
<rect x="1188" y="688" width="3" height="15" fill="#00ff00"/>
<rect x="1196" y="688" width="3" height="18" fill="#00ff00"/>
<rect x="1204" y="688" width="3" height="21" fill="#00ff00"/>
<rect x="1212" y="688" width="3" height="20" fill="#00ff00"/>
<rect x="1220" y="688" width="3" height="10" fill="#00ff00"/>
<rect x="1228" y="688" width="3" height="8" fill="#00ff00"/>
<rect x="1236" y="688" width="3" height="4" fill="#00ff00"/>
<rect x="1244" y="688" width="3" height="1" fill="#00ff00"/>
<rect x="1252" y="686" width="3" height="2" fill="#00ff00"/>
<rect x="1260" y="684" width="3" height="4" fill="#00ff00"/>
<rect x="1268" y="685" width="3" height="3" fill="#00ff00"/>
<rect x="1276" y="686" width="3" height="2" fill="#00ff00"/>
<rect x="1284" y="687" width="3" height="1" fill="#00ff00"/>
<rect x="1292" y="688" width="3" height="6" fill="#00ff00"/>
<path d="M-2.5 744.0L5.5 734.0L13.5 724.0L21.5 714.8L29.5 705.5L37.5 697.0L45.5 689.8L53.5 684.8L61.5 681.5L69.5 678.8L77.5 676.6L85.5 674.8L93.5 672.8L101.5 670.6L109.5 668.2L117.5 664.0L125.5 659.0L133.5 654.5L141.5 650.7L149.5 648.7L157.5 646.6L165.5 646.6L173.5 647.7L181.5 649.9L189.5 652.4L197.5 656.2L205.5 659.0L213.5 662.8L221.5 665.7L229.5 670.3L237.5 673.1L245.5 676.8L253.5 679.5L261.5 681.1L269.5 681.1L277.5 681.0L285.5 679.0L293.5 676.5L301.5 672.8L309.5 670.6L317.5 665.5L325.5 660.6L333.5 655.6L341.5 650.3L349.5 646.5L357.5 641.5L365.5 638.7L373.5 635.7L381.5 633.2L389.5 631.1L397.5 629.4L405.5 628.2L413.5 628.6L421.5 629.6L429.5 630.4L437.5 631.9L445.5 633.7L453.5 635.7L461.5 638.7L469.5 641.9L477.5 644.6L485.5 647.4L493.5 650.7L501.5 654.9L509.5 659.9L517.5 665.7L525.5 672.3L533.5 678.6L541.5 684.8L549.5 690.6L557.5 695.6L565.5 699.7L573.5 703.9L581.5 706.6L589.5 707.5L597.5 707.6L605.5 707.2L613.5 706.6L621.5 705.6L629.5 703.8L637.5 702.2L645.5 700.8L653.5 699.7L661.5 698.3L669.5 697.2L677.5 695.5L685.5 692.5L693.5 688.0L701.5 683.9L709.5 679.7L717.5 674.8L725.5 669.8L733.5 665.3L741.5 660.6L749.5 656.5L757.5 653.2L765.5 650.3L773.5 648.2L781.5 645.7L789.5 643.5L797.5 639.9L805.5 636.9L813.5 633.2L821.5 629.6L829.5 626.2L837.5 623.3L845.5 619.9L853.5 617.1L861.5 615.4L869.5 614.1L877.5 613.3L885.5 613.3L893.5 613.3L901.5 614.1L909.5 615.3L917.5 616.6L925.5 618.8L933.5 621.3L941.5 624.9L949.5 629.9L957.5 636.5L965.5 643.2L973.5 649.5L981.5 655.6L989.5 661.8L997.5 668.1L1005.5 674.4L1013.5 678.9L1021.5 682.6L1029.5 684.4L1037.5 685.5L1045.5 686.0L1053.5 686.0L1061.5 685.9L1069.5 685.2L1077.5 684.7L1085.5 684.4L1093.5 684.6L1101.5 685.6L1109.5 686.5L1117.5 687.2L1125.5 688.2L1133.5 688.2L1141.5 688.2L1149.5 689.1L1157.5 690.1L1165.5 690.1L1173.5 690.1L1181.5 690.1L1189.5 691.8L1197.5 693.7L1205.5 696.4L1213.5 698.3L1221.5 699.7L1229.5 700.3L1237.5 700.3L1245.5 700.3L1253.5 698.3L1261.5 696.4L1269.5 693.7L1277.5 691.1L1285.5 689.1L1293.5 688.5" stroke="#ff0000" stroke-width="3" fill="none" stroke-linejoin="round"/>
</g>
<rect x="1633" y="142" width="1" height="1" fill="#000"/>
<rect x="1633" y="259" width="1" height="1" fill="#000"/>
<g fill="none" stroke="#000" stroke-width="1" shape-rendering="crispEdges">
<rect x="4.5" y="4.5" width="1628" height="594"/>
<rect x="4.5" y="600.5" width="1628" height="141"/>
</g>
<clipPath id="cp"><rect x="1633" y="0" width="31" height="764"/></clipPath>
<g clip-path="url(#cp)" font-family="Liberation Sans, sans-serif" font-size="9.7" text-rendering="geometricPrecision" fill="#000">
<rect x="1633" y="34" width="2" height="1" fill="#000"/>
<text x="1637.5" y="38" textLength="29.06" lengthAdjust="spacingAndGlyphs">4279.0</text>
<rect x="1633" y="67" width="2" height="1" fill="#000"/>
<text x="1637.5" y="71" textLength="29.06" lengthAdjust="spacingAndGlyphs">4243.0</text>
<rect x="1633" y="100" width="2" height="1" fill="#000"/>
<text x="1637.5" y="104" textLength="29.06" lengthAdjust="spacingAndGlyphs">4206.0</text>
<rect x="1633" y="133" width="2" height="1" fill="#000"/>
<text x="1637.5" y="137" textLength="29.06" lengthAdjust="spacingAndGlyphs">4170.0</text>
<rect x="1633" y="166" width="2" height="1" fill="#000"/>
<text x="1637.5" y="170" textLength="29.06" lengthAdjust="spacingAndGlyphs">4133.0</text>
<rect x="1633" y="199" width="2" height="1" fill="#000"/>
<text x="1637.5" y="203" textLength="29.06" lengthAdjust="spacingAndGlyphs">4097.0</text>
<rect x="1633" y="232" width="2" height="1" fill="#000"/>
<text x="1637.5" y="236" textLength="29.06" lengthAdjust="spacingAndGlyphs">4060.0</text>
<rect x="1633" y="265" width="2" height="1" fill="#000"/>
<text x="1637.5" y="269" textLength="29.06" lengthAdjust="spacingAndGlyphs">4023.0</text>
<rect x="1633" y="298" width="2" height="1" fill="#000"/>
<text x="1637.5" y="302" textLength="29.06" lengthAdjust="spacingAndGlyphs">3987.0</text>
<rect x="1633" y="331" width="2" height="1" fill="#000"/>
<text x="1637.5" y="335" textLength="29.06" lengthAdjust="spacingAndGlyphs">3950.0</text>
<rect x="1633" y="364" width="2" height="1" fill="#000"/>
<text x="1637.5" y="368" textLength="29.06" lengthAdjust="spacingAndGlyphs">3914.0</text>
<rect x="1633" y="397" width="2" height="1" fill="#000"/>
<text x="1637.5" y="401" textLength="29.06" lengthAdjust="spacingAndGlyphs">3877.0</text>
<rect x="1633" y="430" width="2" height="1" fill="#000"/>
<text x="1637.5" y="434" textLength="29.06" lengthAdjust="spacingAndGlyphs">3841.0</text>
<rect x="1633" y="463" width="2" height="1" fill="#000"/>
<text x="1637.5" y="467" textLength="29.06" lengthAdjust="spacingAndGlyphs">3804.0</text>
<rect x="1633" y="496" width="2" height="1" fill="#000"/>
<text x="1637.5" y="500" textLength="29.06" lengthAdjust="spacingAndGlyphs">3767.0</text>
<rect x="1633" y="529" width="2" height="1" fill="#000"/>
<text x="1637.5" y="533" textLength="29.06" lengthAdjust="spacingAndGlyphs">3731.0</text>
<rect x="1633" y="562" width="2" height="1" fill="#000"/>
<text x="1637.5" y="566" textLength="29.06" lengthAdjust="spacingAndGlyphs">3694.0</text>
<rect x="1633" y="595" width="2" height="1" fill="#000"/>
<text x="1637.5" y="599" textLength="29.06" lengthAdjust="spacingAndGlyphs">3658.0</text>
<rect x="1633" y="602" width="2" height="1" fill="#000"/>
<rect x="1633" y="688" width="2" height="1" fill="#000"/>
<rect x="1633" y="740" width="2" height="1" fill="#000"/>
<text x="1636" y="611" textLength="23.77" lengthAdjust="spacingAndGlyphs">69.55</text>
<text x="1636" y="692" textLength="18.49" lengthAdjust="spacingAndGlyphs">0.00</text>
<text x="1636" y="738" textLength="26.94" lengthAdjust="spacingAndGlyphs">-41.64</text>
</g>
<rect x="1634" y="136" width="36" height="11" fill="#000"/>
<rect x="1634" y="241" width="36" height="11" fill="#000"/>
<rect x="1634" y="253" width="36" height="11" fill="#000"/>
<g clip-path="url(#cp)" font-family="Liberation Sans, sans-serif" font-size="9.7" text-rendering="geometricPrecision" fill="#fff" class="w">
<text x="1637.5" y="145" textLength="29.06" lengthAdjust="spacingAndGlyphs">4160.0</text>
<text x="1637.5" y="250" textLength="29.06" lengthAdjust="spacingAndGlyphs">4044.6</text>
<text x="1637.5" y="262" textLength="29.06" lengthAdjust="spacingAndGlyphs">4030.0</text>
</g>
<g font-family="Liberation Sans, sans-serif" font-size="9.7" text-rendering="geometricPrecision" fill="#000">
<rect x="5" y="742" width="1" height="3" fill="#000"/>
<text x="4.5" y="754" textLength="48.59" lengthAdjust="spacingAndGlyphs">7 Nov 2022</text>
<rect x="69" y="742" width="1" height="3" fill="#000"/>
<text x="68.5" y="754" textLength="55.81" lengthAdjust="spacingAndGlyphs">11 Nov 01:30</text>
<rect x="133" y="742" width="1" height="3" fill="#000"/>
<text x="132.5" y="754" textLength="56.51" lengthAdjust="spacingAndGlyphs">17 Nov 01:30</text>
<rect x="197" y="742" width="1" height="3" fill="#000"/>
<text x="196.5" y="754" textLength="56.51" lengthAdjust="spacingAndGlyphs">23 Nov 01:30</text>
<rect x="261" y="742" width="1" height="3" fill="#000"/>
<text x="260.5" y="754" textLength="56.51" lengthAdjust="spacingAndGlyphs">29 Nov 01:30</text>
<rect x="325" y="742" width="1" height="3" fill="#000"/>
<text x="324.5" y="754" textLength="49.34" lengthAdjust="spacingAndGlyphs">5 Dec 01:30</text>
<rect x="389" y="742" width="1" height="3" fill="#000"/>
<text x="388.5" y="754" textLength="49.34" lengthAdjust="spacingAndGlyphs">9 Dec 01:30</text>
<rect x="453" y="742" width="1" height="3" fill="#000"/>
<text x="452.5" y="754" textLength="54.43" lengthAdjust="spacingAndGlyphs">15 Dec 01:30</text>
<rect x="517" y="742" width="1" height="3" fill="#000"/>
<text x="516.5" y="754" textLength="54.43" lengthAdjust="spacingAndGlyphs">21 Dec 01:30</text>
<rect x="581" y="742" width="1" height="3" fill="#000"/>
<text x="580.5" y="754" textLength="54.43" lengthAdjust="spacingAndGlyphs">27 Dec 01:30</text>
<rect x="645" y="742" width="1" height="3" fill="#000"/>
<text x="644.5" y="754" textLength="47.82" lengthAdjust="spacingAndGlyphs">3 Jan 01:30</text>
<rect x="709" y="742" width="1" height="3" fill="#000"/>
<text x="708.5" y="754" textLength="47.82" lengthAdjust="spacingAndGlyphs">9 Jan 01:30</text>
<rect x="773" y="742" width="1" height="3" fill="#000"/>
<text x="772.5" y="754" textLength="52.91" lengthAdjust="spacingAndGlyphs">13 Jan 01:30</text>
<rect x="837" y="742" width="1" height="3" fill="#000"/>
<text x="836.5" y="754" textLength="52.91" lengthAdjust="spacingAndGlyphs">19 Jan 01:30</text>
<rect x="901" y="742" width="1" height="3" fill="#000"/>
<text x="900.5" y="754" textLength="48.84" lengthAdjust="spacingAndGlyphs">1 Feb 01:30</text>
<rect x="965" y="742" width="1" height="3" fill="#000"/>
<text x="964.5" y="754" textLength="48.84" lengthAdjust="spacingAndGlyphs">7 Feb 01:30</text>
<rect x="1029" y="742" width="1" height="3" fill="#000"/>
<text x="1028.5" y="754" textLength="53.93" lengthAdjust="spacingAndGlyphs">13 Feb 01:30</text>
<rect x="1093" y="742" width="1" height="3" fill="#000"/>
<text x="1092.5" y="754" textLength="53.93" lengthAdjust="spacingAndGlyphs">17 Feb 01:30</text>
<rect x="1157" y="742" width="1" height="3" fill="#000"/>
<text x="1156.5" y="754" textLength="53.93" lengthAdjust="spacingAndGlyphs">23 Feb 01:30</text>
<rect x="1221" y="742" width="1" height="3" fill="#000"/>
<text x="1220.5" y="754" textLength="48.83" lengthAdjust="spacingAndGlyphs">1 Mar 01:30</text>
<rect x="1285" y="742" width="1" height="3" fill="#000"/>
<text x="1284.5" y="754" textLength="48.83" lengthAdjust="spacingAndGlyphs">7 Mar 01:30</text>
</g>
<path d="M8 11H15L11.5 14.5Z" fill="#000"/>
<text x="20" y="16" font-family="Liberation Sans, sans-serif" font-size="9.7" text-rendering="geometricPrecision" fill="#000" xml:space="preserve" textLength="192.78" lengthAdjust="spacingAndGlyphs">CHINA300-,H4  4103.8 4106.9 4042.7 4044.6</text>
<text x="9" y="613" font-family="Liberation Sans, sans-serif" font-size="9.7" text-rendering="geometricPrecision" fill="#000" xml:space="preserve" textLength="111.42" lengthAdjust="spacingAndGlyphs">MACD(12,26,9) -3.64 0.24</text>
<path d="M1300.8 5H1310.2L1305.5 10Z" fill="#778899"/>
<rect x="1664" y="0" width="1" height="764" fill="#3a3a48"/>
<rect x="1665" y="0" width="2" height="764" fill="#ffe633"/></svg>
</body></html>
